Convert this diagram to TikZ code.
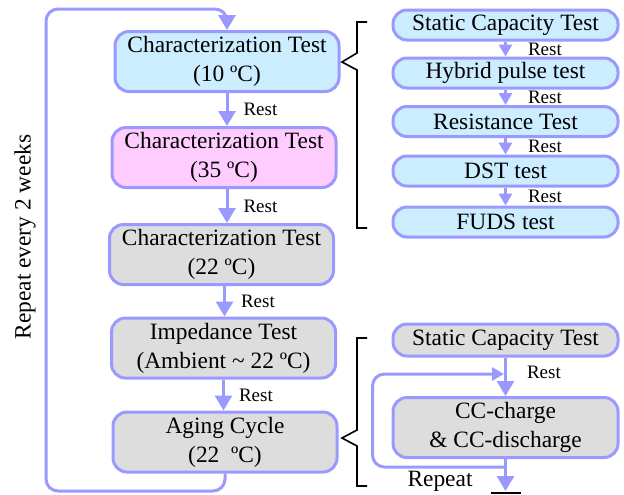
\documentclass[tikz,border=0pt]{standalone}
\usepackage{fontspec}
\setmainfont{Liberation Serif}
\usetikzlibrary{arrows.meta}
\definecolor{edgeblue}{HTML}{9999FF}
\definecolor{fillblue}{HTML}{CCECFF}
\definecolor{fillpink}{HTML}{FFCCFF}
\definecolor{fillgray}{HTML}{DDDDDD}
\begin{document}
\begin{tikzpicture}[x=0.5pt,y=-0.5pt,font=\fontsize{11.7}{14.5}\selectfont,
        bigbox/.style={draw=edgeblue,line width=1.5pt,rounded corners=7pt,minimum width=112pt,minimum height=30pt,align=center,inner sep=1pt},
        smallbox/.style={bigbox,minimum width=112.5pt,minimum height=15pt},
        flow/.style={draw=edgeblue,line width=1.5pt,-{Triangle[length=7.5pt,width=8.5pt]}},
        shortflow/.style={draw=edgeblue,line width=1.5pt,-{Triangle[length=6pt,width=6.5pt]}},
        rest/.style={font=\fontsize{9.5}{11}\selectfont,inner sep=0pt,anchor=west},
        bracket/.style={draw=black,line width=0.8pt}]
        \useasboundingbox (0,0) rectangle (624,494);
        \node[bigbox,fill=fillblue] (char10) at (227,61.5) {Characterization Test\\(10 ºC)};
        \node[bigbox,fill=fillpink] (char35) at (224,157.5) {Characterization Test\\(35 ºC)};
        \node[bigbox,fill=fillgray] (char22) at (221.5,254.5) {Characterization Test\\(22 ºC)};
        \node[bigbox,fill=fillgray] (imped) at (223.5,348) {Impedance Test\\(Ambient \textasciitilde{} 22 ºC)};
        \node[bigbox,fill=fillgray] (aging) at (225,442) {Aging Cycle\\(22\ \ ºC)};
        \draw[flow] (char10.south) -- (char10.south |- char35.north) node[rest,midway,xshift=7.5pt] {Rest};
        \draw[flow] ([xshift=1.5pt]char35.south) -- ([xshift=1.5pt]char35.south |- char22.north) node[rest,midway,xshift=7.5pt] {Rest};
        \draw[flow] ([xshift=1.5pt]char22.south) -- ([xshift=1.5pt]char22.south |- imped.north) node[rest,midway,xshift=7.5pt] {Rest};
        \draw[flow] (imped.south) -- (imped.south |- aging.north) node[rest,midway,xshift=7pt] {Rest};
        \coordinate (loopbl) at (46,491);
        \coordinate (looptl) at (46,9);
        \draw[flow,rounded corners=6pt] (aging.south) |- (loopbl) -- (looptl) -| (char10.north);
        \node[rotate=90] (every) at (25,237) {Repeat every 2 weeks};
        \node[smallbox,fill=fillblue] (scap) at (505.5,25) {Static Capacity Test};
        \node[smallbox,fill=fillblue] (hppc) at (505.5,73) {Hybrid pulse test};
        \node[smallbox,fill=fillblue] (resist) at (505.5,121.5) {Resistance Test};
        \node[smallbox,fill=fillblue] (dst) at (505.5,171) {DST test};
        \node[smallbox,fill=fillblue] (fuds) at (505.5,222) {FUDS test};
        \draw[shortflow] (scap.south) -- (scap.south |- hppc.north) node[rest,midway,xshift=10.5pt] {Rest};
        \draw[shortflow] (hppc.south) -- (hppc.south |- resist.north) node[rest,midway,xshift=10.5pt] {Rest};
        \draw[shortflow] (resist.south) -- (resist.south |- dst.north) node[rest,midway,xshift=10.5pt] {Rest};
        \draw[shortflow] (dst.south) -- (dst.south |- fuds.north) node[rest,midway,xshift=10.5pt] {Rest};
        \draw[bracket] (367,22) -- (357,22) -- (357,53) -- (342,62) -- (357,70) -- (357,228) -- (367,228);
        \node[smallbox,fill=fillgray,minimum height=16pt] (scap2) at (505.5,340) {Static Capacity Test};
        \node[bigbox,fill=fillgray,minimum width=112.5pt] (cccd) at (505.5,427.5) {CC-charge\\\& CC-discharge};
        \draw[flow] (scap2) -- (cccd) node[rest,midway,xshift=10pt,yshift=2pt] {Rest};
        \coordinate (ccin) at (505.5,374);
        \coordinate (ccfork) at (505.5,467);
        \coordinate (ccend) at (505.5,491);
        \draw[flow] (cccd.south) -- (ccend);
        \draw[shortflow,rounded corners=6pt,shorten >=0.75pt] (ccfork) -- ++(-133,0) |- (ccin);
        \draw[line width=1pt] ([xshift=-7.5pt,yshift=-0.8pt]ccend) -- ([xshift=7.5pt,yshift=-0.8pt]ccend);
        \node (again) at (440,481) {Repeat};
        \draw[bracket] (367,338) -- (357,338) -- (357,430) -- (342,438) -- (357,446) -- (357,486) -- (367,486);
\end{tikzpicture}
\end{document}
